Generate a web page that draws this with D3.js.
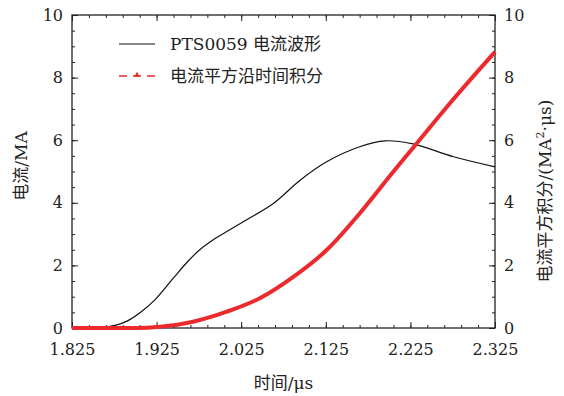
<!DOCTYPE html>
<html>
<head>
<meta charset="utf-8">
<script src="https://cdn.jsdelivr.net/npm/d3@7"></script>
<style>
  body { margin: 0; background: #fff; }
</style>
</head>
<body>
<svg id="chart" width="564" height="396"></svg>
<script>
// current waveform (left axis, MA)
const timeI = [1.825, 1.86, 1.878, 1.89, 1.905, 1.923, 1.945, 1.961, 1.976, 1.992, 2.008, 2.031, 2.063, 2.095, 2.126, 2.165, 2.195, 2.228, 2.276, 2.325]
const current = [0, 0.02, 0.1, 0.22, 0.48, 0.9, 1.6, 2.1, 2.5, 2.82, 3.08, 3.45, 3.98, 4.73, 5.31, 5.79, 5.98, 5.88, 5.47, 5.15]
// integral of current squared (right axis, MA^2·us)
const timeQ = [1.825, 1.9, 1.929, 1.968, 2.008, 2.047, 2.087, 2.126, 2.165, 2.205, 2.228, 2.274, 2.325]
const integral = [0, 0, 0.04, 0.2, 0.52, 0.95, 1.64, 2.49, 3.66, 5.0, 5.75, 7.25, 8.82]

const xTicks = [1.825, 1.925, 2.025, 2.125, 2.225, 2.325]
const yTicks = [0, 2, 4, 6, 8, 10]
const legendLabels = ['PTS0059 电流波形', '电流平方沿时间积分']

const FONT = '"DejaVu Serif", "Liberation Serif", "Noto Sans CJK SC", serif'
const FS = '16px'    // tick labels
const FT = '17px'    // titles, legend
const red = '#ec2a2d'
const margin = {top: 15, right: 69, bottom: 68, left: 72}
const width = 564 - margin.left - margin.right
const height = 396 - margin.top - margin.bottom

const svg = d3.select('#chart').attr('font-family', FONT)
const g = svg.append('g').attr('transform', 'translate(' + margin.left + ',' + margin.top + ')')

const x = d3.scaleLinear().domain([1.825, 2.325]).range([0, width])
const yL = d3.scaleLinear().domain([0, 10]).range([height, 0])
const yR = d3.scaleLinear().domain([0, 10]).range([height, 0])

const xMinor = d3.range(0, 26).map(i => 1.825 + i * 0.02)
const yMinor = d3.range(0, 21).map(i => i * 0.5)

function styleAxis(sel) {
    sel.attr('font-family', FONT)
    sel.select('.domain').remove()
    sel.selectAll('line').attr('stroke', '#222').attr('stroke-width', 1)
    sel.selectAll('text').style('font-size', FS).style('font-family', FONT).attr('fill', '#222')
}

// minor ticks
g.append('g').attr('transform', 'translate(0,' + height + ')')
    .call(d3.axisBottom(x).tickValues(xMinor).tickSize(-3).tickFormat('')).call(styleAxis)
g.append('g')
    .call(d3.axisTop(x).tickValues(xMinor).tickSize(-3).tickFormat('')).call(styleAxis)
g.append('g')
    .call(d3.axisLeft(yL).tickValues(yMinor).tickSize(-3).tickFormat('')).call(styleAxis)
g.append('g').attr('transform', 'translate(' + width + ',0)')
    .call(d3.axisRight(yR).tickValues(yMinor).tickSize(-3).tickFormat('')).call(styleAxis)

// major ticks
g.append('g').attr('transform', 'translate(0,' + height + ')')
    .call(d3.axisBottom(x).tickValues(xTicks).tickSize(-6).tickPadding(16).tickFormat(d3.format('.3f')))
    .call(styleAxis)
g.append('g')
    .call(d3.axisTop(x).tickValues(xTicks).tickSize(-6).tickFormat('')).call(styleAxis)
g.append('g')
    .call(d3.axisLeft(yL).tickValues(yTicks).tickSize(-6).tickPadding(9)).call(styleAxis)
g.append('g').attr('transform', 'translate(' + width + ',0)')
    .call(d3.axisRight(yR).tickValues(yTicks).tickSize(-6).tickPadding(9)).call(styleAxis)

g.append('rect').attr('width', width).attr('height', height)
    .attr('fill', 'none').attr('stroke', '#222').attr('stroke-width', 1.3)

// curves
const lineI = d3.line().curve(d3.curveCatmullRom.alpha(0.5))
    .x((d, i) => x(timeI[i])).y(d => yL(d))
const lineQ = d3.line().curve(d3.curveMonotoneX)
    .x((d, i) => x(timeQ[i])).y(d => yR(d))

g.append('path').datum(current).attr('d', lineI)
    .attr('fill', 'none').attr('stroke', '#111').attr('stroke-width', 1.2)
g.append('path').datum(integral).attr('d', lineQ)
    .attr('fill', 'none').attr('stroke', red).attr('stroke-width', 4)

// legend
const leg = svg.append('g')
leg.append('line').attr('x1', 119).attr('x2', 155).attr('y1', 44).attr('y2', 44)
    .attr('stroke', '#111').attr('stroke-width', 1.2)
leg.append('line').attr('x1', 119).attr('x2', 155).attr('y1', 76).attr('y2', 76)
    .attr('stroke', red).attr('stroke-width', 1.6).attr('stroke-dasharray', '8,6')
leg.append('path').attr('d', d3.symbol(d3.symbolTriangle, 14)())
    .attr('transform', 'translate(137,75)').attr('fill', red)
leg.selectAll('text.lg').data(legendLabels).join('text')
    .attr('class', 'lg')
    .attr('x', 170).attr('y', (d, i) => 50 + i * 32)
    .style('font-size', FT).style('font-family', FONT).attr('fill', '#222')
    .text(d => d)

// axis titles
svg.append('text').attr('x', 72 + width / 2).attr('y', 389)
    .attr('text-anchor', 'middle').style('font-size', FT).style('font-family', FONT)
    .attr('fill', '#222').text('时间/μs')
svg.append('text').attr('transform', 'translate(27,166) rotate(-90)')
    .attr('text-anchor', 'middle').style('font-size', FT).style('font-family', FONT)
    .attr('fill', '#222').text('电流/MA')
const rt = svg.append('text').attr('transform', 'translate(551,191) rotate(-90)')
    .attr('text-anchor', 'middle').style('font-size', FT).style('font-family', FONT)
    .attr('fill', '#222')
rt.append('tspan').text('电流平方积分/(MA')
rt.append('tspan').attr('dy', -7).style('font-size', '11px').text('2')
rt.append('tspan').attr('dy', 7).text('·μs)')
</script>
</body>
</html>
